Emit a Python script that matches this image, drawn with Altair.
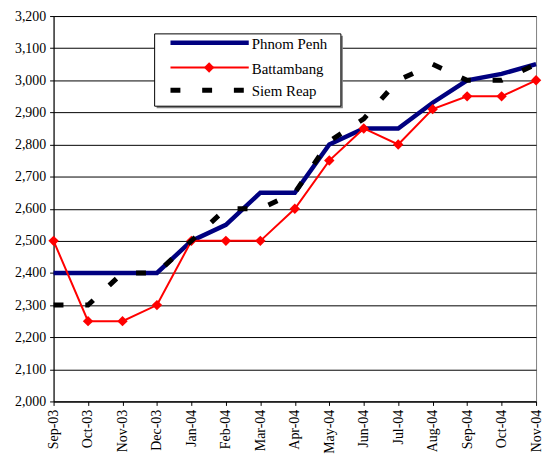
import altair as alt
import pandas as pd

months = ["Sep-03", "Oct-03", "Nov-03", "Dec-03", "Jan-04", "Feb-04", "Mar-04",
          "Apr-04", "May-04", "Jun-04", "Jul-04", "Aug-04", "Sep-04", "Oct-04", "Nov-04"]
phnom_penh = [2400, 2400, 2400, 2400, 2500, 2550, 2650, 2650, 2800, 2850, 2850, 2930, 3000, 3020, 3050]
battambang = [2500, 2250, 2250, 2300, 2500, 2500, 2500, 2600, 2750, 2850, 2800, 2910, 2950, 2950, 3000]
siem_reap = [2300, 2300, 2400, 2400, 2500, 2600, 2600, 2650, 2810, 2880, 3000, 3050, 3000, 3000, 3050]
series_names = ["Phnom Penh", "Battambang", "Siem Reap"]
y_ticks = list(range(2000, 3201, 100))

rows = []
for name, vals in zip(series_names, [phnom_penh, battambang, siem_reap]):
    for m, v in zip(months, vals):
        rows.append({"month": m, "price": v, "series": name})
df = pd.DataFrame(rows)

FONT = "Liberation Serif"
W, H = 487, 389

x_enc = alt.X("month:O", sort=months,
              scale=alt.Scale(type="point", domain=months, padding=0),
              axis=alt.Axis(title=None, labelAngle=-90, labelFont=FONT, labelFontSize=14,
                            labelColor="black", tickColor="black", domainColor="black",
                            tickSize=4, labelPadding=4, grid=False))
y_enc = alt.Y("price:Q", scale=alt.Scale(domain=[2000, 3200], nice=False, zero=False),
              axis=alt.Axis(title=None, values=y_ticks, format=",d", labelFont=FONT,
                            labelFontSize=14, labelColor="black", tickColor="black",
                            domainColor="black", tickSize=4, labelPadding=4,
                            grid=True, gridColor="black", gridWidth=1))

base = alt.Chart(df)

pp = base.transform_filter(alt.datum.series == "Phnom Penh").mark_line(
    color="#000080", strokeWidth=4.5, strokeJoin="miter", strokeCap="butt"
).encode(x=x_enc, y=y_enc)

bb_line = base.transform_filter(alt.datum.series == "Battambang").mark_line(
    color="#FF0000", strokeWidth=2
).encode(x=x_enc, y=y_enc)

bb_pts = base.transform_filter(alt.datum.series == "Battambang").mark_point(
    shape="diamond", filled=True, color="#FF0000", size=110, opacity=1
).encode(x=x_enc, y=y_enc)

sr = base.transform_filter(alt.datum.series == "Siem Reap").mark_line(
    color="black", strokeWidth=5, strokeDash=[10, 22], strokeCap="butt"
).encode(x=x_enc, y=y_enc)

# legend (decoration)
one = alt.Data(values=[{"k": 1}])
leg_shadow = alt.Chart(one).mark_rect(fill="#808080").encode(
    x=alt.value(104), x2=alt.value(292), y=alt.value(20), y2=alt.value(93))
leg_box = alt.Chart(one).mark_rect(fill="white", stroke="black", strokeWidth=1).encode(
    x=alt.value(102), x2=alt.value(290), y=alt.value(18), y2=alt.value(91))
leg_pp = alt.Chart(one).mark_rule(color="#000080", strokeWidth=4.5, strokeCap="butt").encode(
    x=alt.value(118), x2=alt.value(197), y=alt.value(27))
leg_bb = alt.Chart(one).mark_rule(color="#FF0000", strokeWidth=2).encode(
    x=alt.value(118), x2=alt.value(197), y=alt.value(52))
leg_bb_pt = alt.Chart(one).mark_point(shape="diamond", filled=True, color="#FF0000",
                                      size=110, opacity=1).encode(
    x=alt.value(157), y=alt.value(52))
leg_sr = alt.Chart(one).mark_rule(color="black", strokeWidth=5, strokeDash=[10, 22],
                                  strokeCap="butt").encode(
    x=alt.value(118), x2=alt.value(197), y=alt.value(75))

def leg_label(txt, yy):
    return alt.Chart(one).mark_text(
        text=txt, font=FONT, fontSize=15, align="left", baseline="middle", color="black"
    ).encode(x=alt.value(200), y=alt.value(yy))

leg_texts = [leg_label(n, yy) for n, yy in zip(series_names, [28, 53, 76])]

chart = alt.layer(pp, bb_line, bb_pts, sr, leg_shadow, leg_box, leg_pp, leg_bb, leg_bb_pt,
                  leg_sr, *leg_texts).properties(
    width=W, height=H,
    autosize=alt.AutoSizeParams(type="none"),
    padding={"left": 46, "top": 6, "right": 7, "bottom": 58},
    background="white",
).configure_view(stroke="#808080", strokeWidth=1)

chart.save("out.html", embed_options={"renderer": "svg", "actions": False})
